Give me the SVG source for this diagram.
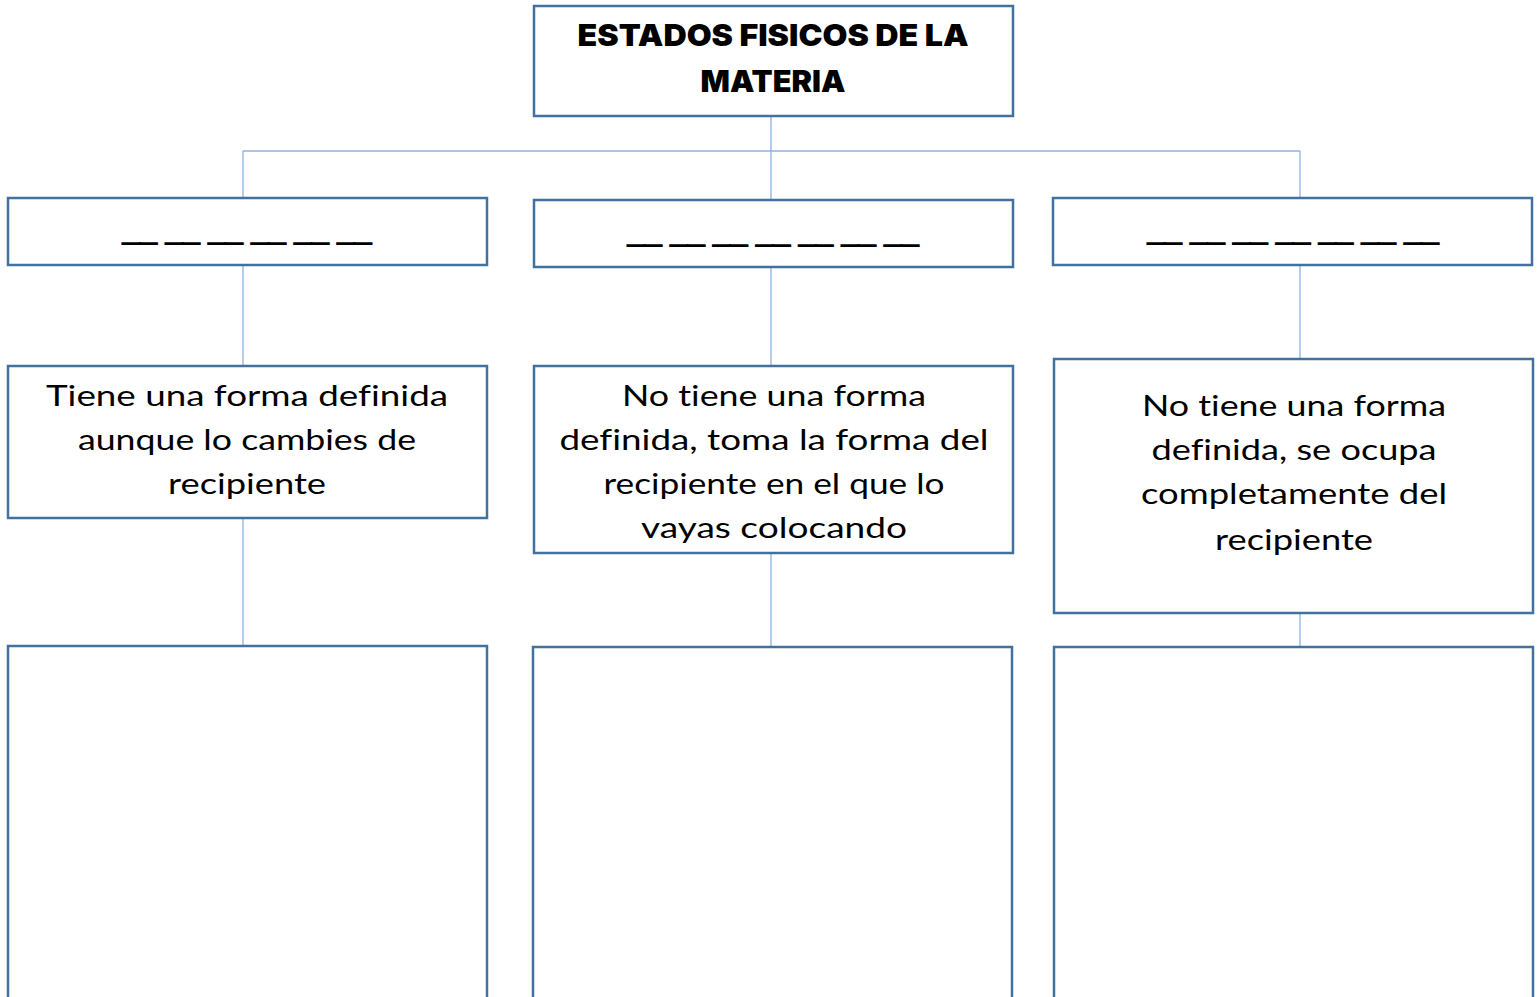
<svg xmlns="http://www.w3.org/2000/svg" width="1538" height="997" viewBox="0 0 1538 997">
<style>
.box{fill:#ffffff;stroke:#41719c;stroke-width:2.5}
.con{stroke:#8db3e2;stroke-width:1.3;fill:none}
.title{font-family:Inter,"Liberation Sans",sans-serif;font-weight:900;font-size:30px;fill:#000;text-anchor:middle}
.body{font-family:Lato,"Noto Sans",sans-serif;font-size:29px;fill:#000;text-anchor:middle;font-variant-ligatures:none;font-feature-settings:"liga" 0}
.dash{font-family:"Liberation Sans",sans-serif;font-weight:bold;font-size:32px;fill:#000;stroke:#000;stroke-width:1.6;text-anchor:middle}
</style>
<rect width="1538" height="997" fill="#ffffff"/>
<g id="connectors">
<path class="con" d="M771,116 V151 M243,151 H1300 M243,151 V198 M771,151 V200 M1300,151 V198"/>
<path class="con" d="M243,265 V366 M771,267 V366 M1300,265 V359"/>
<path class="con" d="M243,518 V646 M771,553 V647 M1300,613 V647"/>
</g>
<g id="title">
<rect class="box" x="534" y="6" width="479" height="110"/>
<text class="title" x="773" y="46" textLength="391" lengthAdjust="spacingAndGlyphs">ESTADOS FISICOS DE LA</text>
<text class="title" x="773" y="92" textLength="145" lengthAdjust="spacingAndGlyphs">MATERIA</text>
</g>
<g id="state1">
<rect class="box" x="8" y="198" width="479" height="67"/>
<text class="dash" x="247" y="240" textLength="249" lengthAdjust="spacingAndGlyphs">__ __ __ __ __ __</text>
</g>
<g id="state2">
<rect class="box" x="534" y="200" width="479" height="67"/>
<text class="dash" x="773" y="242" textLength="291" lengthAdjust="spacingAndGlyphs">__ __ __ __ __ __ __</text>
</g>
<g id="state3">
<rect class="box" x="1053" y="198" width="479" height="67"/>
<text class="dash" x="1293" y="240" textLength="291" lengthAdjust="spacingAndGlyphs">__ __ __ __ __ __ __</text>
</g>
<g id="desc1">
<rect class="box" x="8" y="366" width="479" height="152"/>
<text class="body" x="247" y="406" textLength="402" lengthAdjust="spacingAndGlyphs">Tiene una forma definida</text>
<text class="body" x="247" y="450" textLength="338" lengthAdjust="spacingAndGlyphs">aunque lo cambies de</text>
<text class="body" x="247" y="494" textLength="158" lengthAdjust="spacingAndGlyphs">recipiente</text>
</g>
<g id="desc2">
<rect class="box" x="534" y="366" width="479" height="187"/>
<text class="body" x="774" y="406" textLength="304" lengthAdjust="spacingAndGlyphs">No tiene una forma</text>
<text class="body" x="774" y="450" textLength="429" lengthAdjust="spacingAndGlyphs">definida, toma la forma del</text>
<text class="body" x="774" y="494" textLength="341" lengthAdjust="spacingAndGlyphs">recipiente en el que lo</text>
<text class="body" x="774" y="538" textLength="266" lengthAdjust="spacingAndGlyphs">vayas colocando</text>
</g>
<g id="desc3">
<rect class="box" x="1054" y="359" width="479" height="254"/>
<text class="body" x="1294" y="416" textLength="304" lengthAdjust="spacingAndGlyphs">No tiene una forma</text>
<text class="body" x="1294" y="460" textLength="285" lengthAdjust="spacingAndGlyphs">definida, se ocupa</text>
<text class="body" x="1294" y="504" textLength="306" lengthAdjust="spacingAndGlyphs">completamente del</text>
<text class="body" x="1294" y="550" textLength="158" lengthAdjust="spacingAndGlyphs">recipiente</text>
</g>
<g id="example1">
<rect class="box" x="8" y="646" width="479" height="360"/>
</g>
<g id="example2">
<rect class="box" x="533" y="647" width="479" height="360"/>
</g>
<g id="example3">
<rect class="box" x="1054" y="647" width="479" height="360"/>
</g>
</svg>
